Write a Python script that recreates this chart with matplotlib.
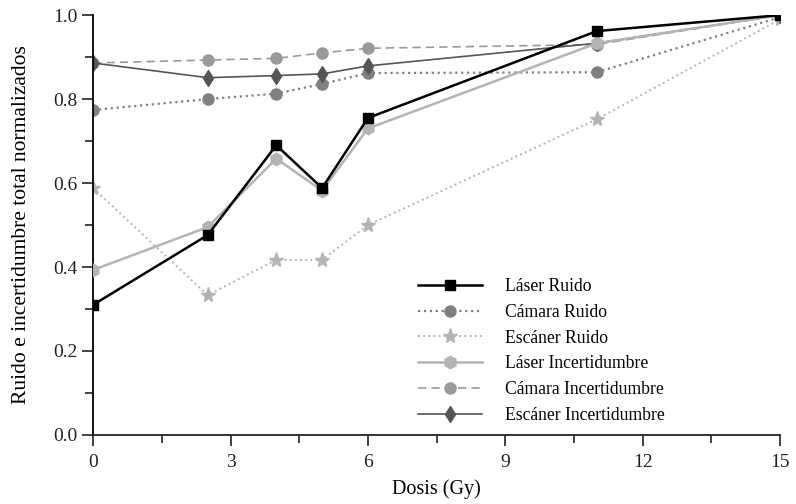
import matplotlib
matplotlib.use("Agg")
import matplotlib.pyplot as plt
from matplotlib.ticker import MultipleLocator

plt.rcParams['font.family'] = ['Liberation Serif', 'DejaVu Serif']

dosis = [0, 2.5, 4, 5, 6, 11, 15]
laser_ruido = [0.31, 0.476, 0.69, 0.588, 0.755, 0.962, 1.0]
camara_ruido = [0.774, 0.80, 0.813, 0.836, 0.862, 0.864, 0.995]
escaner_ruido = [0.588, 0.333, 0.417, 0.417, 0.50, 0.752, 0.99]
laser_inc = [0.393, 0.495, 0.658, 0.582, 0.73, 0.933, 1.0]
camara_inc = [0.886, 0.893, 0.897, 0.91, 0.921, 0.93, 1.0]
escaner_inc = [0.886, 0.851, 0.856, 0.86, 0.879, 0.933, 1.0]

fig = plt.figure(figsize=(7.96, 5.04), dpi=100)
ax = fig.add_axes([0.117, 0.137, 0.863, 0.833])

ax.plot(dosis, laser_ruido, color='black', lw=1.8, marker='s', ms=7, label='Láser Ruido', zorder=6)
ax.plot(dosis, camara_ruido, color='#808080', lw=1.6, ls=':', marker='o', ms=8, label='Cámara Ruido')
ax.plot(dosis, escaner_ruido, color='#b4b4b4', lw=1.4, ls=':', marker='*', ms=11, label='Escáner Ruido')
ax.plot(dosis, laser_inc, color='#b4b4b4', lw=1.8, marker='h', ms=9, label='Láser Incertidumbre', zorder=5)
ax.plot(dosis, camara_inc, color='#9a9a9a', lw=1.2, ls=(0, (5, 3)), marker='o', ms=8, label='Cámara Incertidumbre')
ax.plot(dosis, escaner_inc, color='#555555', lw=1.2, marker='d', ms=8, label='Escáner Incertidumbre')

ax.set_xlim(0, 15)
ax.set_ylim(0, 1.0)
ax.xaxis.set_major_locator(MultipleLocator(3))
ax.xaxis.set_minor_locator(MultipleLocator(1.5))
ax.yaxis.set_major_locator(MultipleLocator(0.2))
ax.yaxis.set_minor_locator(MultipleLocator(0.1))
ax.yaxis.set_major_formatter(matplotlib.ticker.FormatStrFormatter('%.1f'))

for s in ['top', 'right']:
    ax.spines[s].set_visible(False)
for s in ['left', 'bottom']:
    ax.spines[s].set_linewidth(1.3)
    ax.spines[s].set_color('#222222')
ax.spines['left'].set_color('black')

ax.tick_params(which='major', direction='out', length=8, width=1.2, labelsize=14, colors='#222222')
ax.tick_params(which='minor', direction='out', length=5.5, width=1.2, colors='#222222')
ax.tick_params(axis='y', pad=3)
ax.tick_params(axis='x', pad=6)

ax.set_xlabel('Dosis (Gy)', fontsize=14.5, labelpad=6)
ax.set_ylabel('Ruido e incertidumbre total normalizados', fontsize=15.5, labelpad=16)

ax.legend(loc='lower left', bbox_to_anchor=(0.45, -0.012), frameon=False, fontsize=12.7,
          handlelength=3.6, handletextpad=1.3, labelspacing=0.5)

fig.savefig('out.png', dpi=100)
